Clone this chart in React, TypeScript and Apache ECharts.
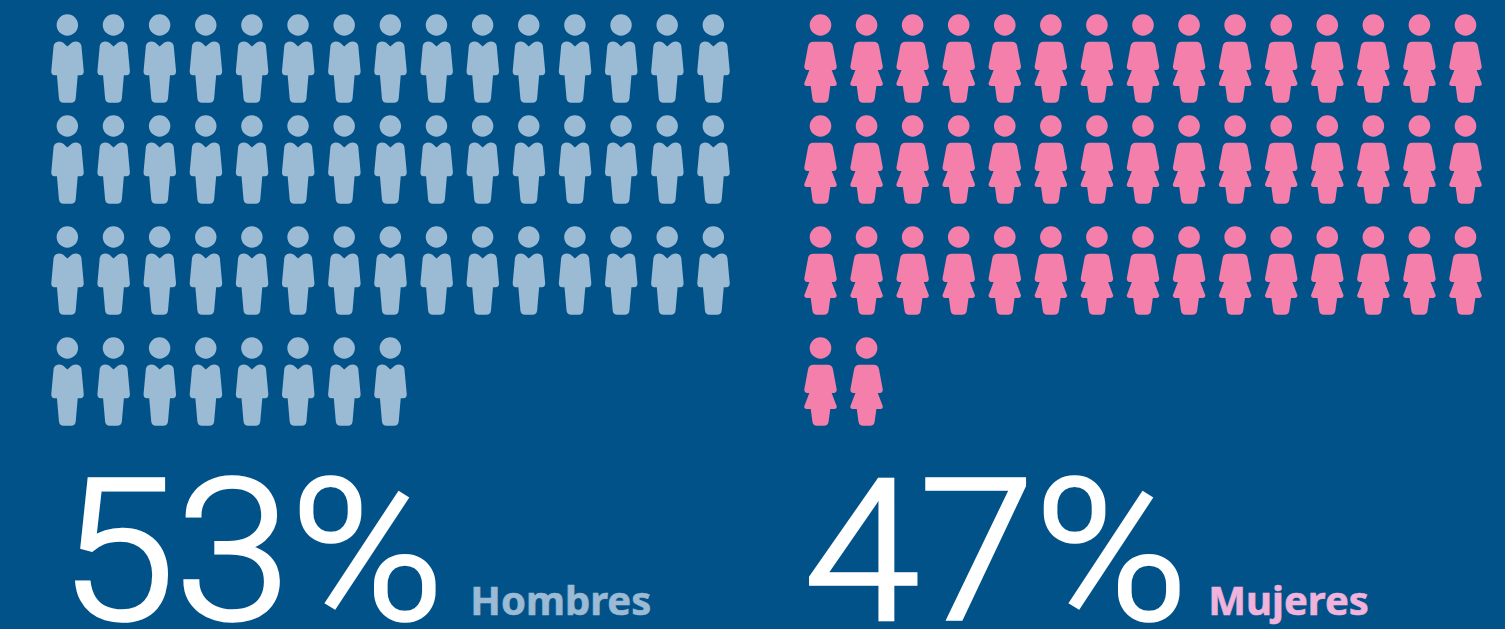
import React, { useEffect, useRef } from "react";
import * as echarts from "echarts";

const menPerRow = [15, 15, 15, 8];
const womenPerRow = [15, 15, 15, 2];
const rowPositions = [0, 10.1, 21.2, 32.3];
const percentLabels = ["53%", "47%"];
const groupLabels = ["Hombres", "Mujeres"];

const manPath =
  "path://M49 76a32 32 0 1 0 64 0a32 32 0 1 0 -64 0Z" +
  "M81 140L94 129Q100 125 108 125Q120 126 123 138L130 214Q130 226 120 226L112 226L106 295Q104 308 92 308L70 308Q58 308 56 295L50 226L43 226Q33 226 33 214L40 138Q43 126 55 125Q63 125 69 129Z";
const womanPath =
  "path://M45 76a32 32 0 1 0 64 0a32 32 0 1 0 -64 0Z" +
  "M56 126L98 126Q112 126 114 140L125 200Q125 210 116 210L110 210L125 250Q126 258 118 258L106 258L101 295Q99 308 87 308L67 308Q55 308 53 295L48 258L36 258Q28 258 29 250L44 210L38 210Q29 210 29 200L40 140Q42 126 56 126Z";

const toPoints = (perRow: number[]) =>
  perRow.flatMap((count, r) => Array.from({ length: count }, (_, c) => [c, rowPositions[r]]));

export default function App() {
  const ref = useRef<HTMLDivElement>(null);
  useEffect(() => {
    document.body.style.margin = "0";
    document.body.style.background = "#02528a";
    const chart = echarts.init(ref.current!, null, { renderer: "svg" });
    const axisX = (gridIndex: number) => ({ type: "value", gridIndex, min: 0, max: 14, show: false });
    const axisY = (gridIndex: number) => ({ type: "value", gridIndex, min: 0, max: 32.3, inverse: true, show: false });
    const bigText = (x: number, text: string) => ({
      type: "text",
      x,
      y: 454,
      scaleX: 1.06,
      silent: true,
      style: {
        text,
        fill: "#ffffff",
        stroke: "#ffffff",
        lineWidth: 3.5,
        font: "300 196px Roboto",
      },
    });
    const smallText = (left: number, text: string, fill: string) => ({
      type: "text",
      left,
      top: 579,
      silent: true,
      style: { text, fill, stroke: fill, lineWidth: 0.6, font: 'bold 40px "Noto Sans"' },
    });
    chart.setOption({
      animation: false,
      backgroundColor: "#02528a",
      grid: [
        { left: 67.5, width: 646, top: 58.5, height: 323 },
        { left: 820.5, width: 645, top: 58.5, height: 323 },
      ],
      xAxis: [axisX(0), axisX(1)],
      yAxis: [axisY(0), axisY(1)],
      series: [
        {
          type: "scatter", xAxisIndex: 0, yAxisIndex: 0, silent: true, clip: false,
          symbol: manPath, symbolSize: [32.5, 88.5], symbolKeepAspect: false,
          itemStyle: { color: "#9bbad3", opacity: 1 },
          data: toPoints(menPerRow),
        },
        {
          type: "scatter", xAxisIndex: 1, yAxisIndex: 1, silent: true, clip: false,
          symbol: womanPath, symbolSize: [32.5, 88.5], symbolKeepAspect: false,
          itemStyle: { color: "#f57fab", opacity: 1 },
          data: toPoints(womenPerRow),
        },
      ],
      graphic: [
        bigText(60, percentLabels[0]),
        bigText(804, percentLabels[1]),
        smallText(470, groupLabels[0], "#9bbad3"),
        smallText(1208, groupLabels[1], "#efb3dc"),
      ],
    });
    return () => chart.dispose();
  }, []);
  return <div ref={ref} style={{ width: 1505, height: 629, overflow: "hidden" }} />;
}
